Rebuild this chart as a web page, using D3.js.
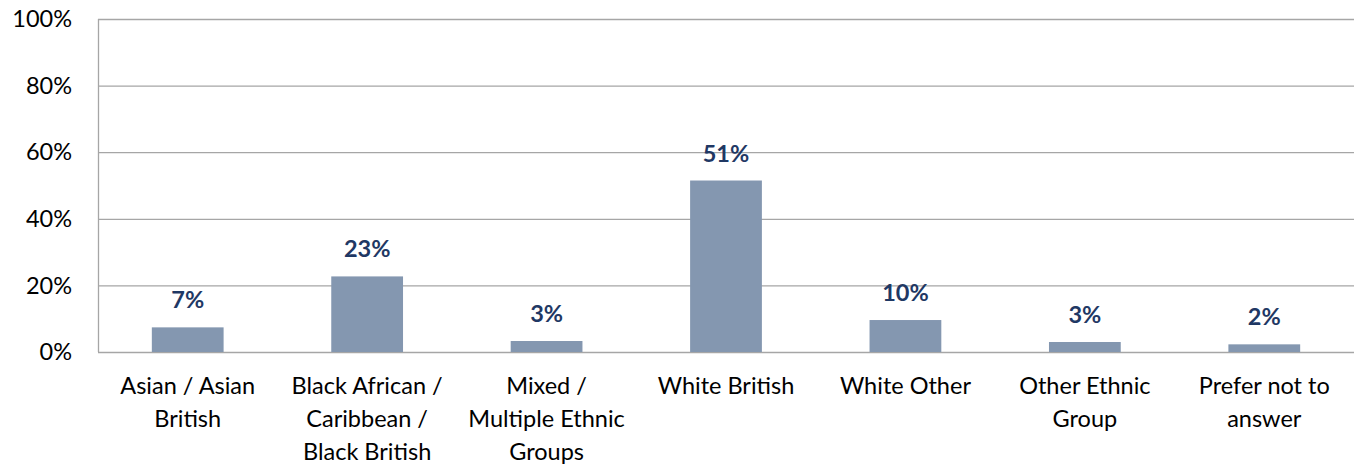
<!DOCTYPE html>
<html><head><meta charset="utf-8">
<script src="https://cdn.jsdelivr.net/npm/d3@7"></script>
<style>body{margin:0;background:#fff}svg{display:block}</style>
</head><body>
<svg id="c" width="1354" height="467"></svg>
<script>
const categories = [
  ["Asian / Asian", "British"],
  ["Black African /", "Caribbean /", "Black British"],
  ["Mixed /", "Multiple Ethnic", "Groups"],
  ["White British"],
  ["White Other"],
  ["Other Ethnic", "Group"],
  ["Prefer not to", "answer"]
];
const values = [7.4, 22.7, 3.3, 51.5, 9.6, 3.0, 2.3];
const dataLabels = ["7%", "23%", "3%", "51%", "10%", "3%", "2%"];
const yTicks = [0, 20, 40, 60, 80, 100];

const svg = d3.select("#c");
const m = {l: 98, r: 0, t: 19, b: 115};
const W = 1354, H = 467;
const font = "Lato, 'Open Sans', sans-serif";
const fs = 23.5;

const x = d3.scaleBand().domain(d3.range(categories.length)).range([m.l, W - m.r]).paddingInner(0.6).paddingOuter(0.3);
const y = d3.scaleLinear().domain([0, 100]).range([H - m.b, m.t]);

svg.append("g").selectAll("line").data(yTicks).join("line")
  .attr("x1", m.l).attr("x2", W).attr("y1", d => y(d) + 0.5).attr("y2", d => y(d) + 0.5)
  .attr("stroke", "#a6a6a6").attr("stroke-width", 1.3);
svg.append("line").attr("x1", m.l + 0.5).attr("x2", m.l + 0.5).attr("y1", y(100)).attr("y2", y(0))
  .attr("stroke", "#a6a6a6").attr("stroke-width", 1.3);

svg.append("g").selectAll("text").data(yTicks).join("text")
  .attr("x", 72).attr("y", d => y(d)).attr("dy", "0.35em")
  .attr("text-anchor", "end").attr("font-family", font).attr("font-size", fs).attr("fill", "#000")
  .text(d => d + "%");

svg.append("g").selectAll("rect").data(values).join("rect")
  .attr("x", (d, i) => x(i)).attr("width", x.bandwidth())
  .attr("y", d => y(d)).attr("height", d => y(0) - y(d))
  .attr("fill", "#8497b0");

svg.append("g").selectAll("text").data(values).join("text")
  .attr("x", (d, i) => x(i) + x.bandwidth() / 2).attr("y", d => y(d) - 19)
  .attr("text-anchor", "middle").attr("font-family", font).attr("font-weight", "bold")
  .attr("font-size", fs).attr("fill", "#1f3864")
  .text((d, i) => dataLabels[i]);

const cg = svg.append("g").selectAll("text").data(categories).join("text")
  .attr("text-anchor", "middle").attr("font-family", font).attr("font-size", fs).attr("fill", "#000");
cg.each(function(lines, i) {
  d3.select(this).selectAll("tspan").data(lines).join("tspan")
    .attr("x", x(i) + x.bandwidth() / 2).attr("y", (l, j) => 394 + j * 33).text(l => l);
});
</script>
</body></html>
